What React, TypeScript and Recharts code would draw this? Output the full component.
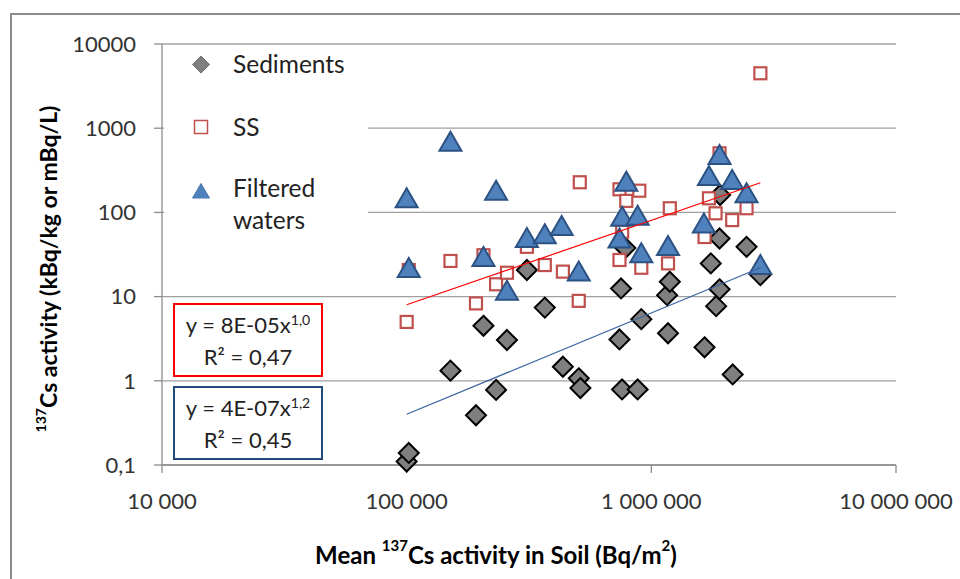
import React from 'react';
import { ScatterChart, Scatter, XAxis, YAxis, CartesianGrid } from 'recharts';

const FONT = 'Lato, "Open Sans", "DejaVu Sans", sans-serif';

// Sediments (kBq/kg) vs mean soil activity (Bq/m2)
const sedimentSoil = [100000, 102000, 151000, 192000, 206000, 232000, 257000, 310000, 367000, 435000, 505000, 513000, 741000, 752000, 759000, 783000, 879000, 910000, 1160000, 1170000, 1190000, 1650000, 1750000, 1840000, 1900000, 1900000, 1910000, 2150000, 2450000, 2790000];
const sedimentActivity = [0.11, 0.139, 1.32, 0.39, 4.5, 0.78, 3.05, 20.7, 7.4, 1.47, 1.07, 0.82, 3.1, 12.5, 0.79, 37.8, 0.79, 5.4, 10.4, 3.67, 15.0, 2.5, 24.8, 7.7, 12.2, 49, 161, 1.19, 39, 18];

// Suspended solids (SS)
const ssSoil = [100000, 102000, 151000, 192000, 206000, 232000, 257000, 310000, 367000, 435000, 505000, 510000, 741000, 741000, 760000, 790000, 893000, 910000, 1170000, 1190000, 1650000, 1720000, 1830000, 1900000, 2140000, 2450000, 2790000];
const ssActivity = [5.0, 20.7, 26.5, 8.3, 31, 14, 19.2, 39, 23.7, 19.8, 8.9, 228, 27.2, 188, 59, 137, 181, 22, 24.8, 112, 51, 147, 97.5, 503, 81, 112, 4490];

// Filtered waters (mBq/L)
const waterSoil = [100000, 102000, 151000, 206000, 232000, 257000, 310000, 367000, 430000, 505000, 741000, 760000, 790000, 879000, 910000, 1170000, 1640000, 1720000, 1900000, 2140000, 2450000, 2790000];
const waterActivity = [147, 21.9, 692, 29.5, 181, 11.7, 49.6, 55, 69, 19.8, 49, 89, 232, 91, 32.7, 40, 74, 270, 480, 243, 169, 23.7];

// Power-law trend lines (end points as displayed)
const ssTrendSoil = [100000, 2790000];
const ssTrendActivity = [8.0, 225];
const sedTrendSoil = [100000, 2790000];
const sedTrendActivity = [0.4, 22];

const xTicks = [10000, 100000, 1000000, 10000000];
const yTicks = [0.1, 1, 10, 100, 1000, 10000];

const toPoints = (xs: number[], ys: number[]) => xs.map((x, i) => ({ x, y: ys[i] }));

const sedimentData = toPoints(sedimentSoil, sedimentActivity);
const ssData = toPoints(ssSoil, ssActivity);
const waterData = toPoints(waterSoil, waterActivity);
const ssTrend = toPoints(ssTrendSoil, ssTrendActivity);
const sedTrend = toPoints(sedTrendSoil, sedTrendActivity);

const fmtX = (v: number) => String(Math.round(v)).replace(/\B(?=(\d{3})+(?!\d))/g, ' ');
const fmtY = (v: number) => (v < 1 ? String(v).replace('.', ',') : String(Math.round(v)));

const Diamond = (props: any) => {
  const { cx, cy } = props;
  if (cx == null || cy == null) return <g />;
  const r = 10;
  return (
    <path
      d={`M${cx},${cy - r}L${cx + r},${cy}L${cx},${cy + r}L${cx - r},${cy}Z`}
      fill="#7F7F7F"
      stroke="#000000"
      strokeWidth={2}
    />
  );
};

const Square = (props: any) => {
  const { cx, cy } = props;
  if (cx == null || cy == null) return <g />;
  const h = 6;
  return <rect x={cx - h} y={cy - h} width={2 * h} height={2 * h} fill="#FFFFFF" stroke="#C0504D" strokeWidth={2.2} />;
};

const Triangle = (props: any) => {
  const { cx, cy } = props;
  if (cx == null || cy == null) return <g />;
  return (
    <path
      d={`M${cx},${cy - 10}L${cx + 11},${cy + 9}L${cx - 11},${cy + 9}Z`}
      fill="#4F81BD"
      stroke="#2C5283"
      strokeWidth={2}
      strokeLinejoin="miter"
    />
  );
};

const NoShape = () => <g />;

const XTitle = (props: any) => {
  const vb = props.viewBox || { x: 162, y: 465, width: 734, height: 114 };
  return (
    <text x={vb.x + 334} y={vb.y + 89} textAnchor="middle" dominantBaseline="central" fontFamily={FONT} fontWeight="bold" fontSize={24} fill="#000">
      Mean <tspan fontSize={15} dy={-9}>137</tspan>
      <tspan dy={9}>Cs activity in Soil (Bq/m</tspan>
      <tspan fontSize={15} dy={-9}>2</tspan>
      <tspan dy={9}>)</tspan>
    </text>
  );
};

const YTitle = () => {
  const cx = 48;
  const cy = 269;
  return (
    <text x={cx} y={cy} transform={`rotate(-90 ${cx} ${cy})`} textAnchor="middle" dominantBaseline="central" fontFamily={FONT} fontWeight="bold" fontSize={23} fill="#000">
      <tspan fontSize={14} dy={-8}>137</tspan>
      <tspan dy={8}>Cs activity (kBq/kg or mBq/L)</tspan>
    </text>
  );
};

const legendText: React.CSSProperties = {
  position: 'absolute',
  left: 69,
  fontFamily: FONT,
  fontSize: 24.5,
  color: '#222',
  lineHeight: '32px',
  whiteSpace: 'nowrap',
};

const eqBox = (color: string, top: number): React.CSSProperties => ({
  position: 'absolute',
  left: 173,
  top,
  width: 150,
  height: 74,
  boxSizing: 'border-box',
  border: `2px solid ${color}`,
  background: '#FFFFFF',
  fontFamily: FONT,
  fontSize: 22,
  color: '#222',
  textAlign: 'center',
  lineHeight: '32px',
  paddingTop: 4,
});

export default function App() {
  return (
    <div style={{ position: 'absolute', left: 0, top: 0, width: 960, height: 579, overflow: 'hidden', background: '#FFFFFF' }}>
      <div style={{ position: 'absolute', left: 10, top: 13, width: 1000, height: 700, border: '2px solid #8C8C8C', boxSizing: 'border-box' }} />
      <div style={{ position: 'absolute', left: 0, top: 0 }}>
        <ScatterChart width={960} height={579} margin={{ top: 44, right: 64, bottom: 0, left: 0 }}>
          <CartesianGrid vertical={false} stroke="#A0A0A0" strokeWidth={1.3} />
          <XAxis
            dataKey="x"
            type="number"
            scale="log"
            domain={[10000, 10000000]}
            ticks={xTicks}
            interval={0}
            tickFormatter={fmtX}
            tick={{ fill: '#333', fontSize: 22, fontFamily: FONT }}
            axisLine={{ stroke: '#8C8C8C', strokeWidth: 1.3 }}
            tickLine={{ stroke: '#8C8C8C', strokeWidth: 1.3 }}
            tickSize={8}
            tickMargin={20}
            height={114}
            label={<XTitle />}
          />
          <YAxis
            dataKey="y"
            type="number"
            scale="log"
            domain={[0.1, 10000]}
            ticks={yTicks}
            interval={0}
            tickFormatter={fmtY}
            tick={{ fill: '#333', fontSize: 22, fontFamily: FONT }}
            axisLine={{ stroke: '#8C8C8C', strokeWidth: 1.3 }}
            tickLine={{ stroke: '#8C8C8C', strokeWidth: 1.3 }}
            tickSize={8}
            tickMargin={18}
            width={162}
            label={<YTitle />}
          />
          <Scatter name="Sediments" data={sedimentData} shape={Diamond} isAnimationActive={false} />
          <Scatter name="SS" data={ssData} shape={Square} isAnimationActive={false} />
          <Scatter name="Filtered waters" data={waterData} shape={Triangle} isAnimationActive={false} />
          <Scatter data={ssTrend} shape={NoShape} line={{ stroke: '#FF0000', strokeWidth: 1.2 }} isAnimationActive={false} />
          <Scatter data={sedTrend} shape={NoShape} line={{ stroke: '#3A64A0', strokeWidth: 1.2 }} isAnimationActive={false} />
        </ScatterChart>
      </div>

      {/* Legend */}
      <div style={{ position: 'absolute', left: 164, top: 47, width: 204, height: 193, background: '#FFFFFF' }}>
        <svg style={{ position: 'absolute', left: 0, top: 0 }} width={70} height={193}>
          <path d="M37,9L45.5,17.5L37,26L28.5,17.5Z" fill="#7F7F7F" stroke="#6E6E6E" strokeWidth={1} />
          <rect x={30.5} y={73.5} width={13} height={13} fill="#FFFFFF" stroke="#C0504D" strokeWidth={1.5} />
          <path d="M37,136.5L45.5,151L28.5,151Z" fill="#4F81BD" stroke="#4A7AB3" strokeWidth={1} />
        </svg>
        <div style={{ ...legendText, top: 1 }}>Sediments</div>
        <div style={{ ...legendText, top: 64 }}>SS</div>
        <div style={{ ...legendText, top: 125 }}>Filtered</div>
        <div style={{ ...legendText, top: 157 }}>waters</div>
      </div>

      {/* Trend line equations */}
      <div style={eqBox('#FF0000', 303)}>
        <div>y = 8E-05x<sup style={{ fontSize: 14, lineHeight: 0 }}>1,0</sup></div>
        <div>R² = 0,47</div>
      </div>
      <div style={eqBox('#1F497D', 386)}>
        <div>y = 4E-07x<sup style={{ fontSize: 14, lineHeight: 0 }}>1,2</sup></div>
        <div>R² = 0,45</div>
      </div>
    </div>
  );
}
